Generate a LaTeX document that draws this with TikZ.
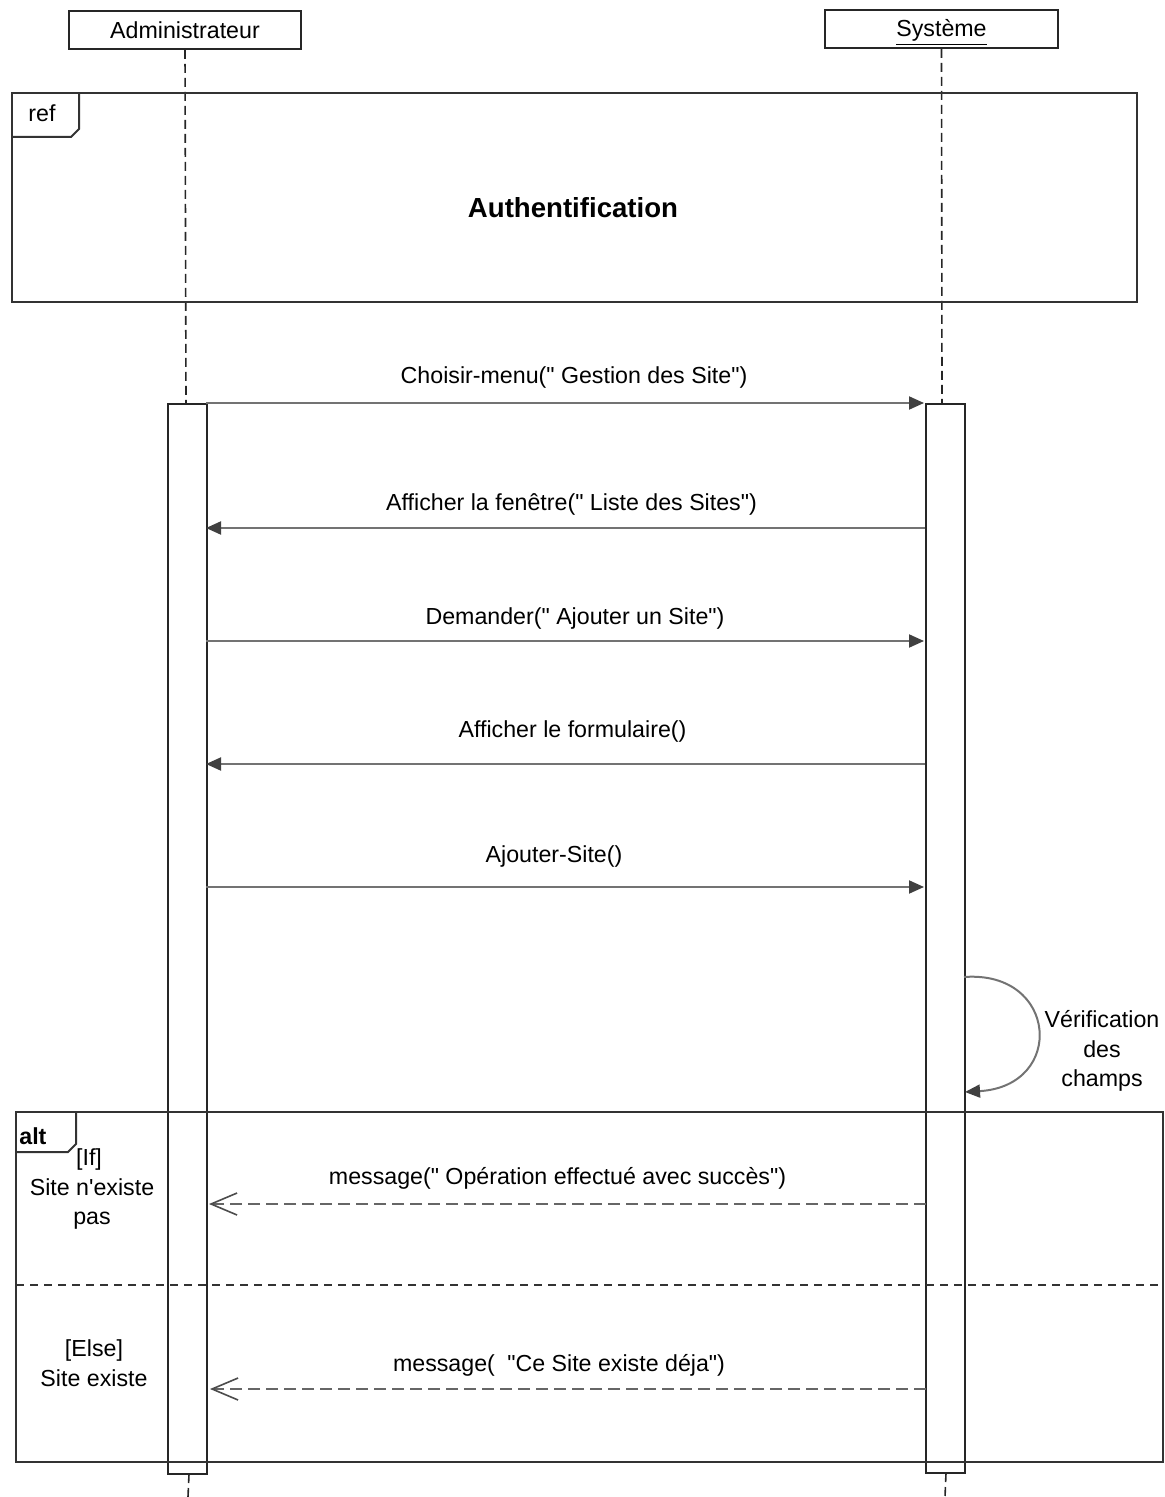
\documentclass[tikz,border=0pt]{standalone}
\usepackage{fontspec}
\setmainfont{Liberation Sans}[Ligatures=TeXOff]
\usetikzlibrary{arrows.meta}
\begin{document}
\begin{tikzpicture}[x=0.5pt,y=-0.5pt,
  font=\fontsize{11.6}{13.8}\selectfont,
  box/.style={draw=black!85, line width=0.9pt},
  lifeline/.style={draw=black!85, line width=0.8pt, dash pattern=on 4.5pt off 2.5pt},
  activation/.style={draw=black!85, line width=0.9pt, fill=white},
  frame/.style={draw=black!80, line width=1pt},
  call/.style={draw=black!55, line width=1pt, -{Triangle[length=7.5pt,width=6.5pt,fill=black!75,color=black!75]}},
  reply/.style={draw=black!60, line width=0.9pt, dash pattern=on 6pt off 3pt,
     -{Straight Barb[length=13pt,width=11pt,line width=0.8pt,color=black!70]}},
  lbl/.style={inner sep=1pt},
]
\useasboundingbox (0,0) rectangle (1165,1497);

% lifeline heads
\node[box, minimum width=116pt, minimum height=19pt, inner sep=0pt] (admin) at (185,30) {Administrateur};
\node[box, minimum width=116.5pt, minimum height=19pt, inner sep=0pt] (sys) at (941.5,29) {\vphantom{A}\smash{\underline{Système}}};

% lifelines
\coordinate (aEnd) at (188,1497);
\coordinate (sEnd) at (945,1497);
\draw[lifeline] (admin.south) -- (186,404);
\draw[lifeline] (sys.south) -- (942,404);
\draw[lifeline] (189,1474) -- (aEnd);
\draw[lifeline] (946,1473) -- (sEnd);

% ref frame
\draw[frame] (12,93) rectangle (1137,302);
\draw[frame] (12,137) -- (71,137) -- (79,129) -- (79,93);
\node[anchor=west, inner sep=0pt] (reftag) at (28,113) {ref};
\node[font=\fontsize{13.8}{16}\bfseries\selectfont] (auth) at (573,208) {Authentification};

% activation bars
\draw[activation] (168,404) rectangle (207,1474);
\draw[activation] (926,404) rectangle (965,1473);

% alt frame
\draw[frame] (16,1112) rectangle (1163,1462);
\draw[frame] (16,1152) -- (68,1152) -- (76,1144) -- (76,1112);
\node[anchor=west, inner sep=0pt, font=\fontsize{11.6}{13.8}\bfseries\selectfont] (alttag) at (19,1136) {alt};
\draw[draw=black!80, line width=0.9pt, dash pattern=on 4pt off 3pt] (16,1285) -- (1163,1285);
\node[align=center] (g1) at (92,1189) {\hspace*{-3pt}[If]\\[1pt]Site n'existe\\[1pt]pas};
\node[align=center] (g2) at (94,1363) {[Else]\\[1pt]Site existe};

% messages
\coordinate (m1a) at (206,403);  \coordinate (m1b) at (924,403);
\coordinate (m2a) at (925,528);  \coordinate (m2b) at (206,528);
\coordinate (m3a) at (206,641);  \coordinate (m3b) at (924,641);
\coordinate (m4a) at (925,764);  \coordinate (m4b) at (206,764);
\coordinate (m5a) at (206,887);  \coordinate (m5b) at (924,887);
\coordinate (m7a) at (926,1204); \coordinate (m7b) at (209,1204);
\coordinate (m8a) at (926,1389); \coordinate (m8b) at (210,1389);

\draw[call] (m1a) -- node[lbl, above=6pt, xshift=4.5pt] (t1) {Choisir-menu(" Gestion des Site")} (m1b);
\draw[call] (m2a) -- node[lbl, above=5pt, xshift=3pt] (t2) {Afficher la fenêtre(" Liste des Sites")} (m2b);
\draw[call] (m3a) -- node[lbl, above=4.5pt, xshift=5pt] (t3) {Demander(" Ajouter un Site")} (m3b);
\draw[call] (m4a) -- node[lbl, above=9.5pt, xshift=3.5pt] (t4) {Afficher le formulaire()} (m4b);
\draw[call] (m5a) -- node[lbl, above=8.5pt, xshift=-5.5pt] (t5) {Ajouter-Site()} (m5b);

% self message
\coordinate (selfA) at (964,977);
\coordinate (selfB) at (965,1092);
\draw[call] (selfA) .. controls (1058,970) and (1066,1086) .. (selfB);
\node[align=center, inner sep=0pt] (t6) at (1102,1051) {Vérification\\[1pt]des\\[1pt]champs};

% replies
\draw[reply] (m7a) -- node[lbl, above=6pt, xshift=-5pt] (t7) {message(" Opération effectué avec succès")} (m7b);
\draw[reply] (m8a) -- node[lbl, above=5pt, xshift=-4.5pt] (t8) {message(\hspace{3pt} "Ce Site existe déja")} (m8b);
\end{tikzpicture}
\end{document}
